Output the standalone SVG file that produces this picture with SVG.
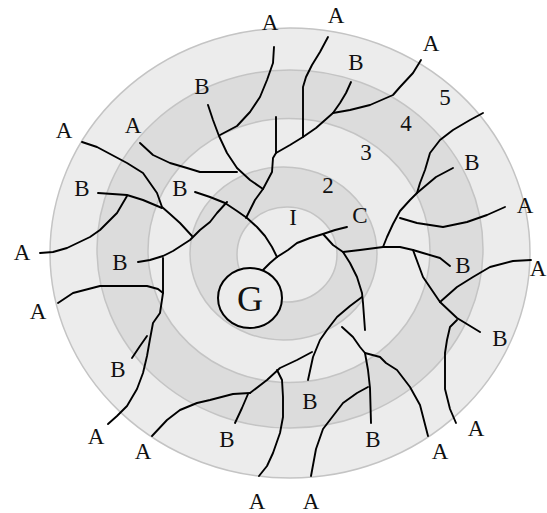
<svg xmlns="http://www.w3.org/2000/svg" width="547" height="513" viewBox="0 0 547 513">
<style>
.ring{stroke:#c4c4c4;stroke-width:1.5}
.lt{fill:#ececec}
.dk{fill:#dcdcdc}
.ln{fill:none;stroke:#000;stroke-width:1.9;stroke-linejoin:round;stroke-linecap:round}
.t{font-family:"Liberation Serif","DejaVu Serif",serif;font-size:23px;fill:#111;text-anchor:middle}
</style>
<rect width="547" height="513" fill="#fff"/>
<g id="rings">
<ellipse class="ring lt" cx="290" cy="253" rx="240" ry="225"/>
<ellipse class="ring dk" cx="290" cy="249" rx="193" ry="179"/>
<ellipse class="ring lt" cx="289" cy="250.5" rx="141" ry="132"/>
<ellipse class="ring dk" cx="283.5" cy="253.5" rx="93.5" ry="86.5"/>
<ellipse class="ring lt" cx="287" cy="254.5" rx="50" ry="47.5"/>
</g>
<g id="connectors" class="ln">
<polyline points="274,47 273,63 267,80 260,97 250,112 237,126 220,135"/>
<polyline points="208,105 213,120 219,136 227,153 237,168 250,180 263,189"/>
<polyline points="140,143 153,155 170,163 187,168 200,172 237,172"/>
<polyline points="276,117 276,153 273,158 272,172 263,189 255,200 250,210 246,218"/>
<polyline points="328,37 320,52 312,65 306,77 303,87 303,137"/>
<polyline points="421,60 413,73 400,87 393,95 370,105 350,110 333,113 316,128 303,137 290,145 276,153"/>
<polyline points="351,82 346,93 340,103 333,113"/>
<polyline points="195,192 210,197 225,203 237,211 247,218 257,227 265,236 272,247 277,257"/>
<polyline points="277,257 270,263 263,270"/>
<polyline points="277,257 288,250 297,243 310,238 323,234 335,230 347,227"/>
<polyline points="323,234 333,245 343,252 360,250 383,247 400,247 413,250"/>
<polyline points="343,252 350,263 357,277 362,293 363,303 365,330"/>
<polyline points="362,297 350,306 337,317 327,330 320,340 313,357 308,380"/>
<polyline points="312,352 297,360 280,368 267,380 250,393"/>
<polyline points="250,393 233,394 210,400 197,403 180,410 167,420 152,436"/>
<polyline points="248,394 242,408 235,423"/>
<polyline points="277,370 282,380 283,397 283,417 280,433 273,453 267,466 259,476"/>
<polyline points="342,327 353,337 360,347 365,353 368,370 370,388 371,423"/>
<polyline points="365,353 380,357 386,363 397,370 410,387 420,405 428,436"/>
<polyline points="368,387 357,393 343,403 333,416 323,429 316,449 311,476"/>
<polyline points="383,247 387,237 393,224 400,211 410,200 417,193 420,183 425,170 430,153 440,140 453,130 470,120 483,113"/>
<polyline points="453,168 436,177 417,193"/>
<polyline points="505,207 487,215 467,222 443,227 417,223 400,218"/>
<polyline points="413,250 423,253 440,258 450,266"/>
<polyline points="413,250 423,277 440,302 457,318 480,332"/>
<polyline points="531,260 513,261 490,267 473,277 457,287 440,302"/>
<polyline points="457,320 450,327 447,340 445,353 445,389 450,409 456,423"/>
<polyline points="82,142 97,147 127,163 143,173 157,193 162,207 170,214 180,223 192,236"/>
<polyline points="98,193 127,195 143,200 162,208"/>
<polyline points="127,196 117,213 100,230 90,237 67,248 53,252 40,253"/>
<polyline points="138,262 150,260 163,256 173,251 190,240 200,230 210,222 217,213 227,202"/>
<polyline points="163,258 163,293 160,313 153,323 150,339 147,356 143,373 137,389 127,406 117,416 108,424"/>
<polyline points="147,336 140,346 132,358"/>
<polyline points="58,303 73,293 100,286 147,286 158,289 163,293"/>
</g>
<g id="G">
<ellipse cx="250" cy="298" rx="32" ry="30" fill="#ececec" stroke="#000" stroke-width="2"/>
<text class="t" x="250" y="311" style="font-size:36px">G</text>
</g>
<g id="ring-labels">
<text class="t" x="293" y="225">I</text>
<text class="t" x="328" y="193">2</text>
<text class="t" x="366" y="160">3</text>
<text class="t" x="406" y="131">4</text>
<text class="t" x="445" y="105">5</text>
<text class="t" x="360" y="223">C</text>
</g>
<g id="labels-A">
<text class="t" x="270" y="30">A</text>
<text class="t" x="336" y="23">A</text>
<text class="t" x="431" y="51">A</text>
<text class="t" x="64" y="138">A</text>
<text class="t" x="133" y="133">A</text>
<text class="t" x="525" y="213">A</text>
<text class="t" x="22" y="260">A</text>
<text class="t" x="538" y="276">A</text>
<text class="t" x="38" y="319">A</text>
<text class="t" x="96" y="444">A</text>
<text class="t" x="143" y="459">A</text>
<text class="t" x="476" y="436">A</text>
<text class="t" x="440" y="459">A</text>
<text class="t" x="257" y="509">A</text>
<text class="t" x="311" y="509">A</text>
</g>
<g id="labels-B">
<text class="t" x="356" y="70">B</text>
<text class="t" x="202" y="94">B</text>
<text class="t" x="472" y="170">B</text>
<text class="t" x="82" y="196">B</text>
<text class="t" x="180" y="196">B</text>
<text class="t" x="120" y="270">B</text>
<text class="t" x="463" y="273">B</text>
<text class="t" x="500" y="346">B</text>
<text class="t" x="118" y="377">B</text>
<text class="t" x="310" y="409">B</text>
<text class="t" x="227" y="447">B</text>
<text class="t" x="373" y="447">B</text>
</g>
</svg>
